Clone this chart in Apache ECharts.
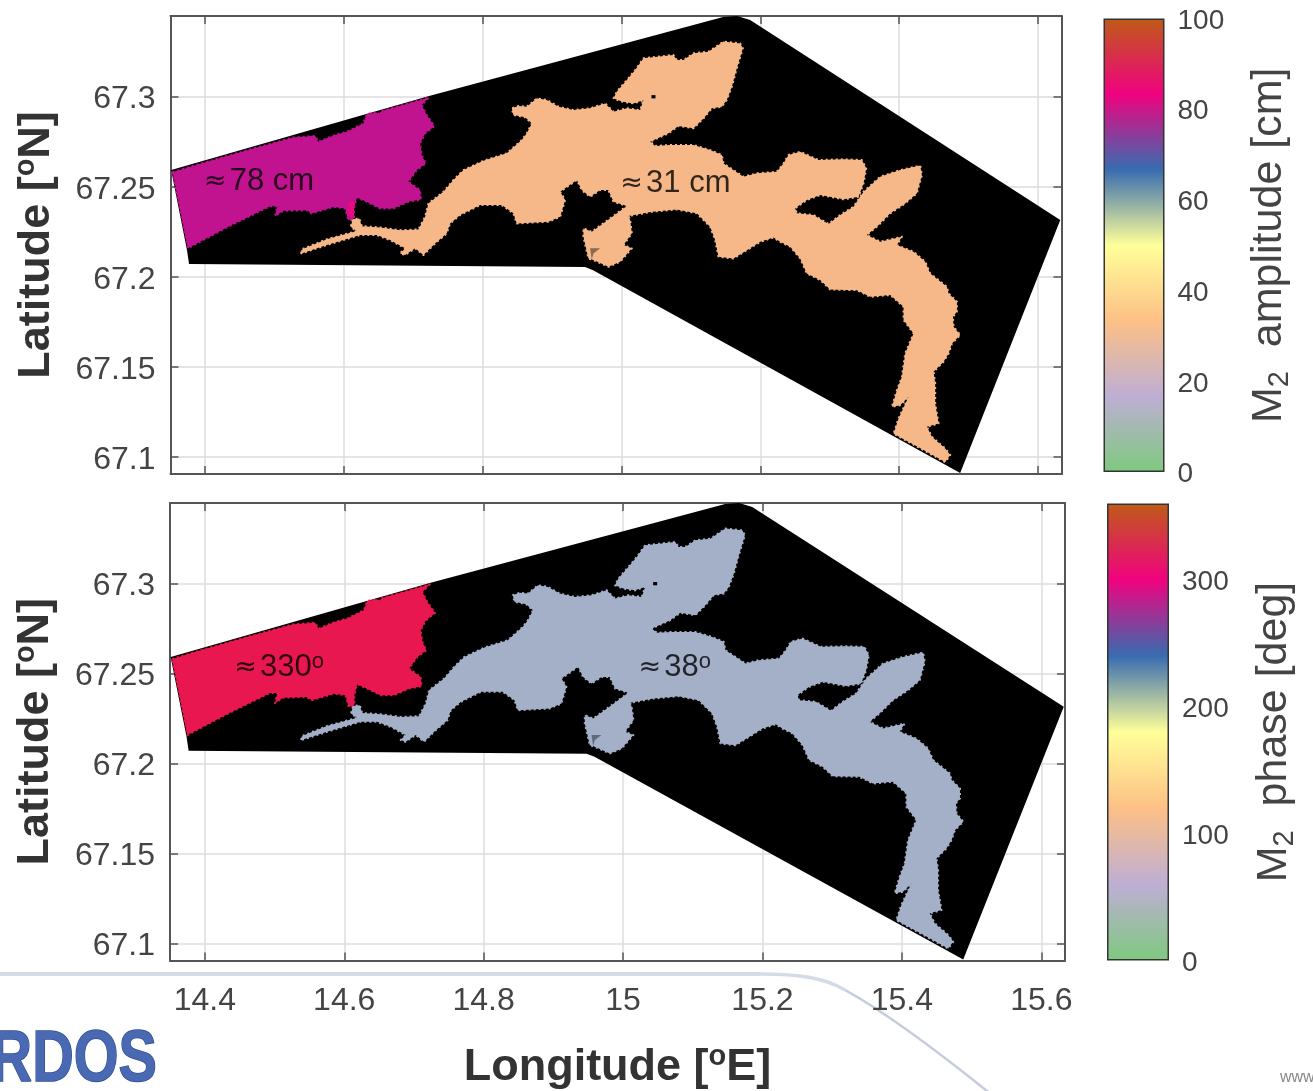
<!DOCTYPE html>
<html>
<head>
<meta charset="utf-8">
<title>M2 tide</title>
<style>
  html, body { margin: 0; padding: 0; background: #fff; overflow: hidden; }
  #chart { width: 1313px; height: 1091px; }
</style>
<script src="https://cdn.jsdelivr.net/npm/echarts@6/dist/echarts.min.js"></script>
</head>
<body>
<div id="chart"></div>
<script>
// axis ranges and ticks
const lonRange = [14.35, 15.634]
const latRange = [67.0906, 67.3447]
const lonTicks = [14.4, 14.6, 14.8, 15, 15.2, 15.4, 15.6]
const latTicks = [67.1, 67.15, 67.2, 67.25, 67.3]
const ampTicks = [0, 20, 40, 60, 80, 100]
const phaseTicks = [0, 100, 200, 300]
const ampMax = 100
const phaseMax = 360

// colour scale, bottom to top
const accentColors = ['#7fc97f', '#beaed4', '#fdc086', '#ffff99', '#386cb0', '#f0027f', '#bf5b17']

// model domain, [lon, lat]
const domainOutline = [
  [14.351, 67.2592], [14.7226, 67.3003], [15.1464, 67.3441], [15.1666, 67.3447], [15.1853, 67.3425],
  [15.6322, 67.2315], [15.488, 67.0911], [14.959, 67.2037], [14.9475, 67.2054], [14.3767, 67.2071],
  [14.3738, 67.2148]
]

// open sea west of the sill
const westOutline = [
  [14.353, 67.258], [14.3878, 67.2622], [14.4694, 67.2712], [14.5271, 67.2773], [14.5583, 67.2782],
  [14.5631, 67.2749], [14.5848, 67.2784], [14.604, 67.2805], [14.628, 67.2851], [14.6328, 67.2903],
  [14.6472, 67.2912], [14.6496, 67.2903], [14.6544, 67.292], [14.7226, 67.2995], [14.7121, 67.2953],
  [14.7193, 67.2897], [14.7304, 67.2836], [14.7169, 67.2795], [14.7097, 67.274], [14.7121, 67.2675],
  [14.7179, 67.2629], [14.7049, 67.2592], [14.6929, 67.2527], [14.7097, 67.2481], [14.7111, 67.2429],
  [14.6929, 67.2416], [14.6712, 67.2379], [14.652, 67.2379], [14.6328, 67.2416], [14.6184, 67.244],
  [14.6145, 67.2379], [14.6145, 67.2323], [14.6064, 67.2314], [14.6016, 67.2379], [14.5848, 67.2388],
  [14.5535, 67.2351], [14.5463, 67.2369], [14.5127, 67.2366], [14.5007, 67.2336], [14.504, 67.2392],
  [14.4935, 67.2392], [14.431, 67.2273], [14.375, 67.2158]
]

// fjord system east of the sill
const fjordOutline = [
  [14.5385, 67.2130], [14.5385, 67.2148], [14.5415, 67.2156], [14.5752, 67.2208], [14.6184, 67.2254], [14.6097, 67.2278],
  [14.6126, 67.2319], [14.6222, 67.2324], [14.6256, 67.2281], [14.652, 67.2274], [14.6809, 67.2259],
  [14.7073, 67.2263], [14.7169, 67.2333], [14.7217, 67.2407], [14.7433, 67.2472], [14.7577, 67.2537],
  [14.7722, 67.2592], [14.801, 67.2644], [14.8346, 67.2685], [14.8562, 67.2759], [14.8635, 67.2796],
  [14.8707, 67.2851], [14.8611, 67.2885], [14.8442, 67.2898], [14.8418, 67.2935], [14.8514, 67.2948],
  [14.8635, 67.2944], [14.8779, 67.299], [14.8923, 67.2981], [14.9091, 67.2944], [14.9307, 67.2925],
  [14.9547, 67.2935], [14.9764, 67.2962], [14.9884, 67.2916], [15.0076, 67.2935], [15.0268, 67.2925],
  [15.0316, 67.2981], [15.0172, 67.2962], [15.0004, 67.2972], [14.9884, 67.299], [14.9932, 67.3027],
  [15.0076, 67.3092], [15.0196, 67.3147], [15.0316, 67.3212], [15.0748, 67.3231], [15.0796, 67.3203],
  [15.0893, 67.3203], [15.1037, 67.324], [15.1253, 67.3249], [15.1469, 67.3305], [15.1709, 67.3295],
  [15.1748, 67.3268], [15.1661, 67.3157], [15.1589, 67.3055], [15.1517, 67.2981], [15.1445, 67.2944],
  [15.1301, 67.2935], [15.1181, 67.2879], [15.1037, 67.2824], [15.082, 67.2837], [15.0676, 67.2796],
  [15.0412, 67.275], [15.0484, 67.2726], [15.07, 67.2731], [15.1037, 67.2731], [15.1277, 67.2703],
  [15.1445, 67.2676], [15.1469, 67.2629], [15.1757, 67.2555], [15.195, 67.2574], [15.2238, 67.2583],
  [15.2334, 67.2629], [15.2406, 67.2676], [15.2574, 67.2694], [15.2839, 67.2648], [15.3199, 67.2652],
  [15.3463, 67.2648], [15.3526, 67.2602], [15.3487, 67.2518], [15.3415, 67.2444], [15.3199, 67.243],
  [15.2863, 67.2454], [15.267, 67.2426], [15.2502, 67.238], [15.2526, 67.2352], [15.2766, 67.2343],
  [15.2983, 67.2293], [15.3151, 67.2343], [15.3343, 67.2389], [15.3487, 67.2472], [15.3728, 67.2555],
  [15.4016, 67.2592], [15.4304, 67.2617], [15.4328, 67.2565], [15.4256, 67.2463], [15.4088, 67.2407],
  [15.3872, 67.2352], [15.3679, 67.2278], [15.3535, 67.2232], [15.3728, 67.2195], [15.404, 67.2222],
  [15.3968, 67.2176], [15.4208, 67.2139], [15.4376, 67.2084], [15.4448, 67.2019], [15.4689, 67.1945],
  [15.4713, 67.1908], [15.4833, 67.1862], [15.4833, 67.1806], [15.4775, 67.1778], [15.4785, 67.1723],
  [15.4881, 67.1677], [15.4761, 67.163], [15.4713, 67.1575], [15.464, 67.1529], [15.4496, 67.1473],
  [15.452, 67.1408], [15.452, 67.1297], [15.4568, 67.1186], [15.44, 67.1168], [15.4472, 67.1112],
  [15.4664, 67.1048], [15.4737, 67.1011], [15.4664, 67.0972], [15.428, 67.1054], [15.392, 67.113],
  [15.3992, 67.1214], [15.4136, 67.1334], [15.4016, 67.1288], [15.3896, 67.1279], [15.3968, 67.1371],
  [15.404, 67.1445], [15.4088, 67.1575], [15.4208, 67.1686], [15.4064, 67.176], [15.4064, 67.1834],
  [15.3872, 67.1899], [15.3583, 67.1889], [15.3391, 67.1926], [15.3007, 67.193], [15.2863, 67.1982],
  [15.267, 67.2019], [15.2574, 67.2102], [15.243, 67.2167], [15.2286, 67.2194], [15.219, 67.2218],
  [15.1998, 67.2194], [15.1806, 67.2148], [15.1613, 67.2102], [15.1397, 67.2111], [15.1349, 67.2204],
  [15.1277, 67.2278], [15.1085, 67.2352], [15.0796, 67.2374], [15.0436, 67.2361], [15.01, 67.2337],
  [15.0124, 67.2315], [15.0148, 67.2241], [15.0028, 67.2176], [15.0148, 67.2158], [14.998, 67.2084],
  [14.9811, 67.2056], [14.9595, 67.2093], [14.9523, 67.2102], [14.9451, 67.2222], [14.9451, 67.2269],
  [14.9571, 67.225], [14.9835, 67.2324], [15.0076, 67.2393], [14.9884, 67.2417], [14.9811, 67.2481],
  [14.9691, 67.2481], [14.9547, 67.2444], [14.9427, 67.2481], [14.9355, 67.2537], [14.9115, 67.2472],
  [14.9187, 67.2426], [14.9115, 67.2333], [14.8947, 67.2306], [14.849, 67.2296], [14.8442, 67.2352],
  [14.8274, 67.2398], [14.7962, 67.2398], [14.7674, 67.2343], [14.7529, 67.2296], [14.7481, 67.2241],
  [14.7313, 67.2185], [14.7145, 67.2121], [14.7025, 67.2158], [14.6881, 67.2121], [14.6809, 67.213],
  [14.6881, 67.2158], [14.6664, 67.2204], [14.6472, 67.2232], [14.6232, 67.2232], [14.5752, 67.2176]
]

// small dry spots inside the fjord
const spotOne = [[15.0431, 67.3008], [15.0489, 67.3008], [15.0489, 67.299], [15.0431, 67.299]]
const spotTwo = [[14.9547, 67.2158], [14.9691, 67.2158], [14.9595, 67.213], [14.9571, 67.2096]]
// the little pocket that only shows in the amplitude panel
const pinkPocket = [[14.6064, 67.2418], [14.6145, 67.2418], [14.6145, 67.2333], [14.6064, 67.2333]]

const ampRegions = { west: '#c1128f', fjord: '#f6b888' }
const phaseRegions = { west: '#e91750', fjord: '#a4b0c8' }

const ampNotes = [
  { pos: [14.398, 67.2528], text: '78 cm', sup: '' },
  { pos: [14.998, 67.2517], text: '31 cm', sup: '' }
]
const phaseNotes = [
  { pos: [14.442, 67.2533], text: '330', sup: 'o' },
  { pos: [15.022, 67.2533], text: '38', sup: 'o' }
]

const labelColor = '#444'
const boxColor = '#555'
const font = 'Liberation Sans'

// rough = dashed edge in the fill colour, gives the model grid's saw-tooth coast
function polygonSeries(points, fill, panel, rough) {
  return {
    type: 'custom',
    coordinateSystem: 'cartesian2d',
    xAxisIndex: panel * 2,
    yAxisIndex: panel * 2,
    silent: true,
    animation: false,
    data: points,
    renderItem(params, api) {
      if (params.dataIndex !== 0) return null
      const style = { fill: fill }
      if (rough) {
        style.stroke = fill
        style.lineWidth = 2
        style.lineDash = [2, 3]
        style.lineJoin = 'round'
      }
      return {
        type: 'polygon',
        shape: { points: points.map(p => api.coord(p)) },
        style: style
      }
    }
  }
}

function noteSeries(notes, panel) {
  return {
    type: 'scatter',
    xAxisIndex: panel * 2,
    yAxisIndex: panel * 2,
    symbolSize: 0,
    silent: true,
    animation: false,
    z: 6,
    data: notes.map(n => ({
      value: n.pos,
      label: {
        show: true,
        position: 'right',
        distance: 0,
        formatter: '{a|≈} {b|' + n.text + '}' + (n.sup ? '{s|' + n.sup + '}' : ''),
        rich: {
          a: { fontFamily: 'DejaVu Sans', fontSize: 27, color: '#000', lineHeight: 34 },
          b: { fontFamily: font, fontSize: 31, color: '#000', lineHeight: 34 },
          s: { fontFamily: font, fontSize: 22, color: '#000', lineHeight: 34, verticalAlign: 'top' }
        }
      }
    }))
  }
}

const boldName = {
  a: { fontFamily: font, fontWeight: 'bold', fontSize: 45, color: '#333', lineHeight: 50 },
  s: { fontFamily: font, fontWeight: 'bold', fontSize: 29, color: '#333', lineHeight: 50, verticalAlign: 'top' }
}

function lonAxes(gridIndex, withLabels) {
  const base = {
    type: 'value',
    gridIndex: gridIndex,
    min: lonRange[0],
    max: lonRange[1],
    axisLine: { onZero: false, lineStyle: { color: boxColor, width: 2 } },
    axisTick: { inside: true, length: 8, customValues: lonTicks, lineStyle: { color: boxColor, width: 1.5 } }
  }
  return [
    {
      ...base,
      position: 'bottom',
      splitLine: { show: true, lineStyle: { color: '#dcdcdc', width: 1.5 } },
      axisLabel: {
        show: withLabels,
        customValues: lonTicks,
        margin: 25,
        fontFamily: font,
        fontSize: 32,
        color: labelColor,
        formatter: v => String(v)
      },
      name: withLabels ? '{a|Longitude [}{s|o}{a|E]}' : '',
      nameLocation: 'middle',
      nameGap: 82,
      nameTextStyle: { rich: boldName }
    },
    { ...base, position: 'top', splitLine: { show: false }, axisLabel: { show: false } }
  ]
}

function latAxes(gridIndex) {
  const base = {
    type: 'value',
    gridIndex: gridIndex,
    min: latRange[0],
    max: latRange[1],
    axisLine: { onZero: false, lineStyle: { color: boxColor, width: 2 } },
    axisTick: { inside: true, length: 8, customValues: latTicks, lineStyle: { color: boxColor, width: 1.5 } }
  }
  return [
    {
      ...base,
      position: 'left',
      splitLine: { show: true, lineStyle: { color: '#dcdcdc', width: 1.5 } },
      axisLabel: {
        customValues: latTicks,
        margin: 15,
        formatter: v => '{v|' + v + '}',
        rich: {
          v: { fontFamily: font, fontSize: 32, color: labelColor, padding: [6, 0, 0, 0] }
        }
      },
      name: '{a|Latitude [}{s|o}{a|N]}',
      nameLocation: 'middle',
      nameRotate: 90,
      nameGap: 109,
      nameTextStyle: { rich: boldName }
    },
    { ...base, position: 'right', splitLine: { show: false }, axisLabel: { show: false } }
  ]
}

function barAxis(gridIndex, max, ticks, title) {
  return {
    type: 'value',
    gridIndex: gridIndex,
    position: 'right',
    min: 0,
    max: max,
    z: 5,
    splitLine: { show: false },
    axisLine: { show: false },
    axisTick: { inside: true, length: 5, customValues: ticks, lineStyle: { color: '#333', width: 1.5 } },
    axisLabel: {
      customValues: ticks,
      margin: 13,
      formatter: v => '{v|' + v + '}',
      rich: {
        v: { fontFamily: font, fontSize: 28, color: labelColor, padding: [5, 0, 0, 0] }
      }
    },
    name: '{a|M}{u|2}{a|  ' + title + '}',
    nameLocation: 'middle',
    nameRotate: 90,
    nameGap: 80,
    nameTextStyle: {
      rich: {
        a: { fontFamily: font, fontSize: 43, color: labelColor, lineHeight: 50 },
        u: { fontFamily: font, fontSize: 29, color: labelColor, lineHeight: 50, verticalAlign: 'bottom' }
      }
    }
  }
}

function barXAxis(gridIndex) {
  return {
    type: 'category',
    gridIndex: gridIndex,
    data: [''],
    axisLine: { show: false },
    axisTick: { show: false },
    axisLabel: { show: false }
  }
}

function colorBar(max, panel) {
  const n = accentColors.length - 1
  return {
    type: 'bar',
    xAxisIndex: 4 + panel,
    yAxisIndex: 4 + panel,
    barWidth: '100%',
    silent: true,
    animation: false,
    data: [max],
    itemStyle: {
      borderColor: '#333',
      borderWidth: 1.5,
      color: new echarts.graphic.LinearGradient(0, 1, 0, 0,
        accentColors.map((c, i) => ({ offset: i / n, color: c })))
    }
  }
}

const myChart = echarts.init(document.getElementById('chart'), null, { renderer: 'canvas' })

myChart.setOption({
  animation: false,
  backgroundColor: '#fff',
  grid: [
    { left: 170.5, top: 16, width: 891, height: 458 },
    { left: 170, top: 503, width: 895, height: 458 },
    { left: 1103.5, top: 18.5, width: 61, height: 453.5 },
    { left: 1107, top: 503.5, width: 62, height: 457 }
  ],
  xAxis: [
    ...lonAxes(0, false),
    ...lonAxes(1, true),
    barXAxis(2),
    barXAxis(3)
  ],
  yAxis: [
    ...latAxes(0),
    ...latAxes(1),
    barAxis(2, ampMax, ampTicks, 'amplitude [cm]'),
    barAxis(3, phaseMax, phaseTicks, 'phase [deg]')
  ],
  graphic: [
    // slide background behind the figure
    {
      type: 'line',
      silent: true,
      z: -1,
      shape: { x1: 0, y1: 974, x2: 760, y2: 974 },
      style: { stroke: '#d5dbe6', lineWidth: 4 }
    },
    {
      type: 'bezierCurve',
      silent: true,
      z: -1,
      shape: { x1: 760, y1: 974, cpx1: 800, cpy1: 974, cpx2: 825, cpy2: 978, x2: 845, y2: 990 },
      style: { fill: 'none', stroke: '#d5dbe6', lineWidth: 3.5 }
    },
    {
      type: 'bezierCurve',
      silent: true,
      z: -1,
      shape: { x1: 845, y1: 990, cpx1: 885, cpy1: 1012, cpx2: 930, cpy2: 1045, x2: 992, y2: 1095 },
      style: { fill: 'none', stroke: '#c3cbdd', lineWidth: 2.5 }
    },
    {
      type: 'text',
      silent: true,
      x: 157,
      y: 1097,
      scaleX: 0.8,
      style: {
        text: 'RDOS',
        align: 'right',
        verticalAlign: 'bottom',
        fontFamily: 'Liberation Sans',
        fontWeight: 'bold',
        fontSize: 72,
        fill: '#4a69b3',
        stroke: '#2f4a94',
        lineWidth: 1.5
      }
    },
    {
      type: 'text',
      silent: true,
      x: 1280,
      y: 1070,
      style: { text: 'www', fontFamily: 'Liberation Sans', fontSize: 16, fill: '#888' }
    }
  ],
  series: [
    polygonSeries(domainOutline, '#000', 0),
    polygonSeries(westOutline, ampRegions.west, 0, true),
    polygonSeries(pinkPocket, '#ea0a80', 0),
    polygonSeries(fjordOutline, ampRegions.fjord, 0, true),
    polygonSeries(spotOne, '#000', 0),
    polygonSeries(spotTwo, '#8a6a4c', 0),
    noteSeries(ampNotes, 0),
    polygonSeries(domainOutline, '#000', 1),
    polygonSeries(westOutline, phaseRegions.west, 1, true),
    polygonSeries(fjordOutline, phaseRegions.fjord, 1, true),
    polygonSeries(spotOne, '#000', 1),
    polygonSeries(spotTwo, '#5f6a80', 1),
    noteSeries(phaseNotes, 1),
    colorBar(ampMax, 0),
    colorBar(phaseMax, 1)
  ]
})
</script>
</body>
</html>
